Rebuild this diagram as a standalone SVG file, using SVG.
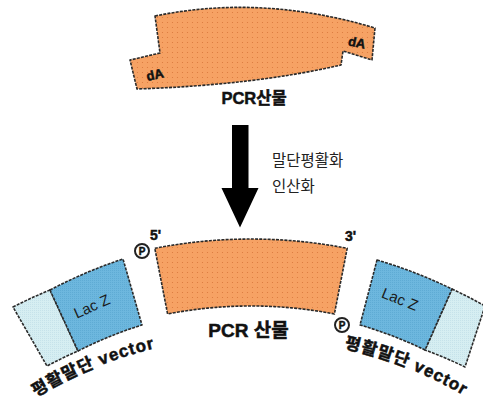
<svg xmlns="http://www.w3.org/2000/svg" width="483" height="406" viewBox="0 0 483 406">
  <defs>
    <pattern id="dotOrange" width="5" height="5" patternUnits="userSpaceOnUse">
      <rect width="5" height="5" fill="#F6A264"/>
      <circle cx="2.5" cy="2.5" r="0.6" fill="#D9783C"/>
    </pattern>
    <pattern id="chkBlue" width="2" height="2" patternUnits="userSpaceOnUse">
      <rect width="2" height="2" fill="#6DB7DE"/>
      <rect width="1" height="1" fill="#5EABD4"/>
    </pattern>
    <pattern id="chkLight" width="2" height="2" patternUnits="userSpaceOnUse">
      <rect width="2" height="2" fill="#D6EEF2"/>
      <rect width="1" height="1" fill="#C6E2EA"/>
    </pattern>
    <path id="arcLeft" d="M36,397 A415,415 0 0 1 195,341"/>
    <path id="arcRight" d="M344,348 A415,415 0 0 1 492,414"/>
  </defs>
  <style>
    .edge { stroke: #2a2a2a; stroke-width: 1.6; stroke-dasharray: 3 1.2; stroke-linejoin: round; }
    .orange { fill: url(#dotOrange); }
    .blue { fill: url(#chkBlue); }
    .light { fill: url(#chkLight); }
    .bold { font-family: "Liberation Sans", "Noto Sans CJK KR", sans-serif; font-weight: bold; fill: #111; stroke: #111; stroke-width: 0.5; }
    .kr { font-family: "Noto Sans CJK KR", "Liberation Sans", sans-serif; font-size: 15.5px; fill: #222; }
    .lac { font-family: "Liberation Sans", sans-serif; font-size: 15px; fill: #1a1a1a; }
    .pmark { fill: #fff; stroke: #222; stroke-width: 2; }
  </style>

  <!-- PCR product with dA overhangs -->
  <g id="pcr-product-top">
    <path class="orange edge" d="M155,16 Q262,-6 375,28 L372,60 L343,51 L341,65 Q255,85 137,89 L130,60 L160,53 Z"/>
    <text class="bold" font-size="13" text-anchor="middle" transform="translate(156,79) rotate(-13)">dA</text>
    <text class="bold" font-size="13" text-anchor="middle" transform="translate(356,47) rotate(12)">dA</text>
    <text class="bold" font-size="16.5" x="254" y="104" text-anchor="middle">PCR산물</text>
  </g>

  <!-- treatment step -->
  <g id="connectors">
    <polygon points="232,125 248.5,125 248.5,188 258.5,188 240,227.5 221.5,188 232,188" fill="#000"/>
  </g>
  <g id="step-label">
    <text class="kr" x="272" y="166">말단평활화</text>
    <text class="kr" x="272" y="192">인산화</text>
  </g>

  <!-- blunt-ended, phosphorylated PCR product -->
  <g id="pcr-product-blunt">
    <path class="orange edge" d="M154.8,248.3 A504,504 0 0 1 347.2,248.3 L334.4,314 A437,437 0 0 0 167.6,314 Z"/>
    <circle class="pmark" cx="142" cy="251" r="7"/>
    <text class="bold" font-size="10" x="142" y="254.6" text-anchor="middle">P</text>
    <text class="bold" font-size="14" x="150" y="240">5'</text>
    <text class="bold" font-size="14" x="345" y="241">3'</text>
    <circle class="pmark" cx="342" cy="325" r="7"/>
    <text class="bold" font-size="10" x="342" y="328.6" text-anchor="middle">P</text>
    <text class="bold" font-size="19" x="248.5" y="337" text-anchor="middle">PCR 산물</text>
  </g>

  <!-- left vector arm -->
  <g id="vector-left">
    <path class="light edge" d="M13,307 A480,480 0 0 1 50,290 L78,351 A420,420 0 0 0 47,366 Z"/>
    <path class="blue edge" d="M50,290 A480,480 0 0 1 123,259 L142,325 A420,420 0 0 0 78,351 Z"/>
    <text class="lac" text-anchor="middle" transform="translate(94,311) rotate(-24)">Lac Z</text>
    <text class="bold" font-size="17" letter-spacing="1"><textPath href="#arcLeft">평활말단 vector</textPath></text>
  </g>

  <!-- right vector arm -->
  <g id="vector-right">
    <path class="light edge" d="M452,289 A480,480 0 0 1 485,306 L465,367 A420,420 0 0 0 425,350 Z"/>
    <path class="blue edge" d="M377,260 A480,480 0 0 1 452,289 L425,350 A420,420 0 0 0 360,325 Z"/>
    <text class="lac" text-anchor="middle" transform="translate(398,304) rotate(22)">Lac Z</text>
    <text class="bold" font-size="17" letter-spacing="1"><textPath href="#arcRight">평활말단 vector</textPath></text>
  </g>
</svg>
